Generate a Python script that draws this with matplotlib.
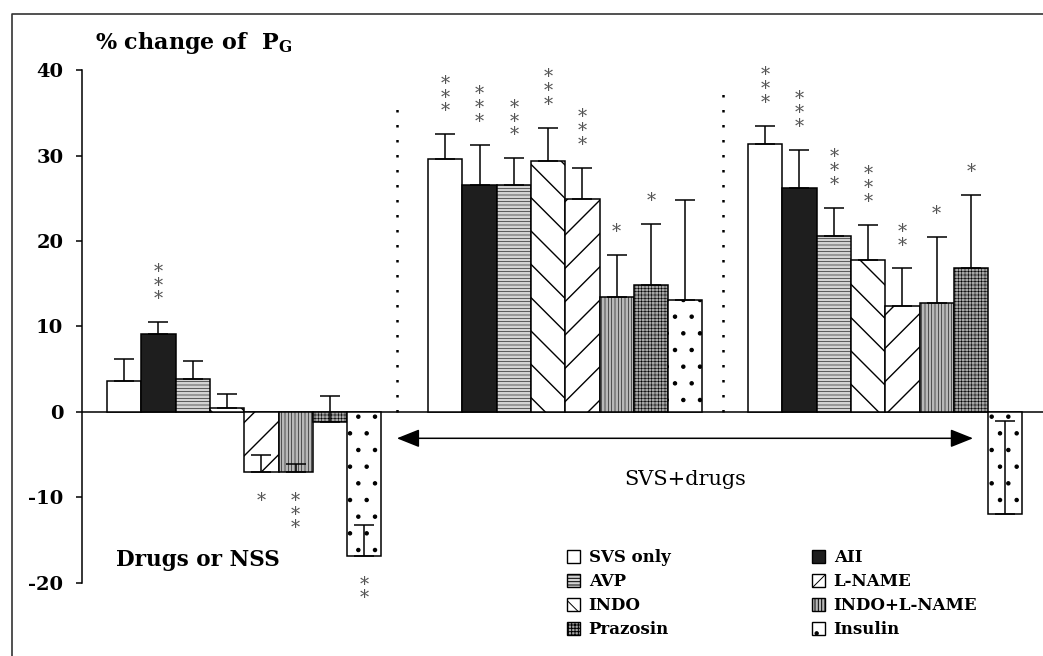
import matplotlib
matplotlib.use('Agg')
import matplotlib.pyplot as plt
import numpy as np
from matplotlib.patches import Patch
from matplotlib.lines import Line2D

plt.rcParams['font.family'] = 'DejaVu Serif'
plt.rcParams['mathtext.fontset'] = 'dejavuserif'
plt.rcParams['hatch.linewidth'] = 0.7

# treatments, in bar order inside each group
treatments = ['SVS only', 'AII', 'AVP', 'INDO', 'L-NAME', 'INDO+L-NAME', 'Prazosin', 'Insulin']

# group 1: drugs or NSS alone
drug_vals = [3.6, 9.1, 3.9, 0.5, -7.1, -7.1, -1.2, -16.9]
drug_sem = [2.6, 1.4, 2.0, 1.6, 2.1, 1.0, 3.0, 3.7]
drug_sig = ['', '***', '', '', '*', '***', '', '**']

# group 2: SVS + drugs (first set)
svs1_vals = [29.6, 26.6, 26.6, 29.4, 24.9, 13.4, 14.9, 13.1]
svs1_sem = [2.9, 4.7, 3.1, 3.9, 3.7, 5.0, 7.1, 11.7]
svs1_sig = ['***', '***', '***', '***', '***', '*', '*', '']

# group 3: SVS + drugs (second set)
svs2_vals = [31.4, 26.2, 20.6, 17.8, 12.4, 12.8, 16.8, -12.0]
svs2_sem = [2.1, 4.5, 3.3, 4.1, 4.4, 7.7, 8.6, 10.9]
svs2_sig = ['***', '***', '***', '***', '**', '*', '*', '']

y_ticks = [-20, -10, 0, 10, 20, 30, 40]

# bar looks: face colour, hatch, hatch line width
styles = {
    'SVS only': ('white', '', 0.7),
    'AII': ('#1e1e1e', '', 0.7),
    'AVP': ('#d2d2d2', '-----', 0.4),
    'INDO': ('white', '\\', 1.0),
    'L-NAME': ('white', '/', 1.0),
    'INDO+L-NAME': ('#b8b8b8', '|||||', 0.4),
    'Prazosin': ('#a5a5a5', '+++++', 0.4),
    'Insulin': ('white', '.', 0.8),
}

W, H = 1043, 656
fig = plt.figure(figsize=(W / 100, H / 100), dpi=100)
ax = fig.add_axes([82 / W, 0, 1 - 82 / W, (H - 14) / H])
ax.set_xlim(-0.73, 27.29)
ax.set_ylim(-28.6, 46.6)

groups = [(drug_vals, drug_sem, drug_sig),
          (svs1_vals, svs1_sem, svs1_sig),
          (svs2_vals, svs2_sem, svs2_sig)]
group_starts = [0.0, 9.36, 18.69]

star_fs = 13
for start, (vals, sems, sigs) in zip(group_starts, groups):
    xs = start + np.arange(len(vals)) + 0.5
    for x, v, name in zip(xs, vals, treatments):
        face, hatch, hlw = styles[name]
        b = ax.bar(x, v, width=1.0, facecolor=face, hatch=hatch,
                   edgecolor='black', linewidth=1.1, zorder=2)
        for p in b:
            if hasattr(p, 'set_hatch_linewidth'):
                p.set_hatch_linewidth(hlw)
    ax.errorbar(xs, vals, yerr=[np.zeros(len(vals)), sems], fmt='none',
                ecolor='black', elinewidth=1.1, capsize=7, capthick=1.1, zorder=3)
    # significance stars, one stacked text per bar
    for x, v, e, s in zip(xs, vals, sems, sigs):
        if not s:
            continue
        stack = '\n'.join(s)
        if v >= 0:
            ax.annotate(stack, (x, v + e), xytext=(0, 10), textcoords='offset points',
                        ha='center', va='bottom', fontsize=star_fs, color='#555555',
                        linespacing=0.7)
        else:
            ax.annotate(stack, (x, v), xytext=(0, -14), textcoords='offset points',
                        ha='center', va='top', fontsize=star_fs, color='#555555',
                        linespacing=0.7)

ax.axhline(0, color='black', lw=1.1, zorder=1)

# dotted separators
ax.plot([8.45, 8.45], [0, 36.5], color='black', lw=1.8, ls=(0, (1, 5)), zorder=1)
ax.plot([17.95, 17.95], [0, 38.5], color='black', lw=1.8, ls=(0, (1, 5)), zorder=1)

# SVS+drugs arrow
ax.annotate('', xy=(25.25, -3.1), xytext=(8.45, -3.1),
            arrowprops=dict(arrowstyle='<|-|>,head_length=1.0,head_width=0.4',
                            mutation_scale=14, lw=1.1, color='black',
                            shrinkA=0, shrinkB=0))
ax.text(16.85, -8.55, 'SVS+drugs', ha='center', va='baseline', fontsize=15)
ax.text(2.65, -18.05, 'Drugs or NSS', ha='center', va='baseline', fontsize=15.5,
        fontweight='bold')

# axes styling
for side in ['top', 'right', 'bottom']:
    ax.spines[side].set_visible(False)
ax.spines['left'].set_bounds(-20, 40)
ax.spines['left'].set_linewidth(1.1)
ax.set_xticks([])
ax.set_yticks(y_ticks)
ax.set_yticklabels([str(t) for t in y_ticks], fontsize=14, fontweight='bold')
ax.tick_params(axis='y', direction='out', length=4.5, width=1.1, pad=9)

fig.text(95 / W, 1 - 49 / H, r'% change of  P$_\mathbf{G}$', fontsize=16,
         fontweight='bold', ha='left', va='baseline')

# legend, filled column by column
leg_order = ['SVS only', 'AVP', 'INDO', 'Prazosin',
             'AII', 'L-NAME', 'INDO+L-NAME', 'Insulin']
handles = []
for name in leg_order:
    face, hatch, hlw = styles[name]
    h = Patch(facecolor=face, hatch=hatch, edgecolor='black', linewidth=1.0)
    if hasattr(h, 'set_hatch_linewidth'):
        h.set_hatch_linewidth(hlw)
    handles.append(h)
fig.legend(handles, leg_order, loc='upper left', bbox_to_anchor=(567 / W, 1 - 549 / H),
           ncol=2, frameon=False, borderpad=0, borderaxespad=0,
           handlelength=0.8, handleheight=0.8, handletextpad=0.5,
           columnspacing=8.5, labelspacing=0.42,
           prop=dict(family='DejaVu Serif', weight='bold', size=12))

# outer frame (top and left edges)
fig.add_artist(Line2D([12 / W, 12 / W, 1], [0, 1 - 14 / H, 1 - 14 / H],
                      color='#333333', lw=1.2))

fig.savefig('out.png', dpi=100)
